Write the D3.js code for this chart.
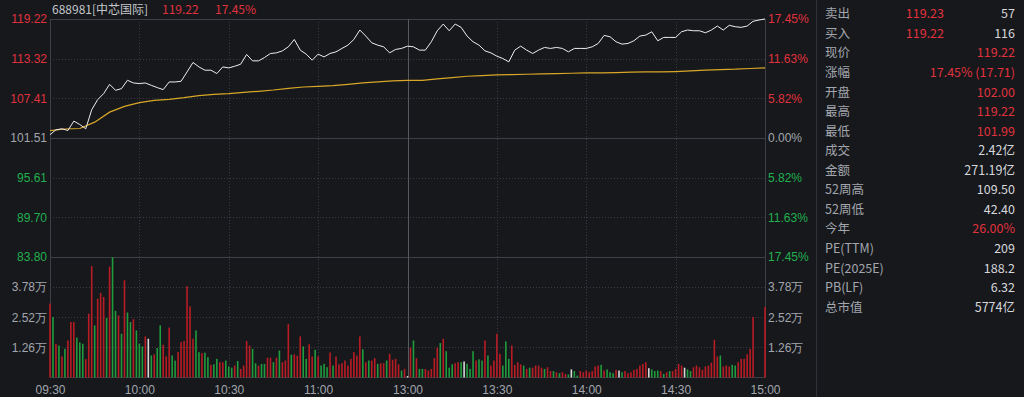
<!DOCTYPE html>
<html>
<head>
<meta charset="utf-8">
<script src="https://cdn.jsdelivr.net/npm/d3@7"></script>
<style>
html, body { margin: 0; padding: 0; background: #16181c; }
svg { display: block; font-family: "Noto Sans CJK SC", "Noto Sans", sans-serif; }
</style>
</head>
<body>
<svg id="chart" width="1024" height="397"></svg>
<script>
// price every 2 minutes, 09:30 .. 15:00 (121 points)
var prices = [
  102.00, 102.73, 102.88, 102.63, 104.02, 103.52, 102.88, 105.72, 107.22, 108.11,
  109.50, 108.61, 108.86, 110.10, 109.70, 109.61, 109.70, 109.35, 109.01, 108.71,
  109.85, 109.85, 109.95, 111.34, 112.75, 112.09, 111.60, 111.60, 111.10, 112.09,
  111.94, 112.19, 112.49, 113.94, 112.99, 112.99, 113.49, 114.09, 114.18, 114.48,
  115.08, 116.18, 114.59, 113.99, 113.09, 113.99, 113.58, 114.09, 114.33, 114.84,
  115.33, 116.18, 117.58, 116.68, 115.68, 115.33, 115.08, 114.18, 114.69, 114.84,
  115.18, 115.08, 114.59, 114.59, 115.83, 117.47, 118.47, 117.47, 118.47, 117.98,
  116.68, 115.83, 115.33, 114.48, 114.18, 113.69, 113.34, 112.84, 114.59, 115.18,
  114.59, 114.09, 114.59, 114.99, 114.84, 114.99, 114.84, 114.33, 114.84, 114.84,
  114.84, 115.08, 115.58, 116.78, 116.57, 115.83, 115.48, 115.58, 115.98, 116.68,
  116.83, 117.32, 115.98, 116.48, 116.48, 116.48, 117.32, 117.58, 117.47, 117.47,
  117.17, 117.58, 118.17, 117.58, 118.28, 118.07, 117.98, 118.17, 118.88, 119.07,
  119.22
];
// average price every 5 minutes (49 points)
var avgPrices = [
  102.60, 102.85, 102.92, 103.87, 105.36, 106.21, 106.77, 107.11, 107.26, 107.51,
  107.81, 108.01, 108.11, 108.31, 108.46, 108.65, 108.90, 109.10, 109.20, 109.31,
  109.50, 109.70, 109.85, 110.00, 110.10, 110.10, 110.30, 110.50, 110.70, 110.80,
  110.89, 110.95, 111.00, 111.04, 111.10, 111.15, 111.19, 111.19, 111.25, 111.30,
  111.34, 111.34, 111.40, 111.49, 111.60, 111.70, 111.75, 111.85, 111.94
];
// minute volume (万), morning 09:30..11:30 (121) and afternoon 13:01..15:00 (120)
var volumeAM = [
  3.09, 2.53, 1.41, 1.34, 0.88, 1.20, 1.55, 2.32, 2.32, 1.67,
  1.47, 1.41, 0.77, 2.67, 4.66, 2.18, 3.30, 3.54, 3.37, 2.49,
  4.63, 5.03, 2.79, 2.60, 1.83, 4.07, 2.72, 2.32, 2.44, 1.97,
  1.41, 1.30, 1.72, 1.62, 0.92, 0.97, 1.23, 2.18, 1.37, 0.88,
  2.09, 0.92, 0.71, 1.06, 1.48, 1.53, 3.82, 2.98, 1.62, 1.97,
  1.06, 1.02, 1.04, 0.85, 0.53, 0.55, 0.78, 0.64, 0.64, 0.71,
  0.46, 0.41, 0.50, 0.69, 0.36, 0.50, 1.53, 1.34, 1.20, 0.60,
  0.50, 0.57, 0.57, 0.83, 0.83, 0.64, 0.83, 1.13,
  0.64, 0.71, 2.23, 0.95, 0.97, 0.91, 1.72, 1.30, 0.78, 1.39,
  0.88, 1.16, 0.88, 0.50, 0.57, 0.43, 1.05, 0.50, 0.88, 0.55,
  0.60, 0.71, 0.50, 0.78, 1.06, 0.92, 1.72, 1.18, 0.64, 0.71,
  0.71, 0.81, 0.57, 0.60, 0.60, 0.71, 0.99, 0.74, 0.78, 0.55,
  0.29, 0.36, 0.06
];
var volumePM = [
  1.25, 1.55, 0.81, 0.36, 0.36, 0.36, 0.29, 0.36, 0.81, 1.25,
  1.44, 1.62, 1.10, 0.41, 0.55, 0.60, 0.64, 0.64, 0.67, 0.57,
  0.36, 1.10, 0.71, 0.76, 0.71, 1.55, 0.92, 0.50, 0.71, 1.83,
  0.99, 0.50, 1.51, 0.78, 1.34, 0.53, 0.64, 0.55, 0.50, 0.36,
  0.41, 0.41, 0.50, 0.50, 0.41, 0.36, 0.43,
  0.27, 0.27, 0.22, 0.18, 0.22, 0.15, 0.13, 0.34, 0.27, 0.08,
  0.27, 0.22, 0.29, 0.22, 0.27, 0.46, 0.50, 0.53, 0.29, 0.34,
  0.22, 0.18, 0.32, 0.29, 0.22, 0.27, 0.18, 0.22, 0.32, 0.36,
  0.50, 0.57, 0.64, 0.39, 0.34, 0.27, 0.29, 0.27, 0.15, 0.22,
  0.27, 0.27, 0.36, 0.57, 0.50, 0.41, 0.34, 0.27, 0.43, 0.50,
  0.43, 0.32, 0.46, 0.50, 0.62, 1.58, 0.88, 0.92, 0.46, 0.50,
  0.46, 0.53, 0.50, 0.64, 0.78, 0.78, 0.97, 1.20, 2.53,
  0, 0, 0, 2.95
];
// bar colour: r = up, g = down, w = flat
var dirAM = "rgrgrgrrrgggrrrgrrrgrggrgrggrgggrwgrggrrrggrrrrrrggrggrggrrgggrgrrrrggrggrrgrg" +
            "rrrgrrrggrrgrgggrgrrrrrrrrrgrgrrgrrgrrrrgrw";
var dirPM = "rgrggrrrrrgrgggrrgwgggrggrgrrrrgggrrrrgrgrrrrgr" +
            "rgrgrrgwggrrrrrrrgrgggrwgrrrrrrrrwgggrgrgrrrrwggrrrrrrrrrgrrrggrrrrrr" + "rrrr";

var preClose = 101.51;
var priceTicks = [119.22, 113.32, 107.41, 101.51, 95.61, 89.70, 83.80];
var pctTicks = ["17.45%", "11.63%", "5.82%", "0.00%", "5.82%", "11.63%", "17.45%"];
var volTicks = [3.78, 2.52, 1.26];
var timeTicks = [0, 30, 60, 90, 120, 150, 180, 210, 240];
var timeLabels = ["09:30", "10:00", "10:30", "11:00", "13:00", "13:30", "14:00", "14:30", "15:00"];

var panelLabels = ["卖出", "买入", "现价", "涨幅", "开盘", "最高", "最低", "成交", "金额",
                   "52周高", "52周低", "今年", "PE(TTM)", "PE(2025E)", "PB(LF)", "总市值"];
var panelMid = ["119.23", "119.22", "", "", "", "", "", "", "", "", "", "", "", "", "", ""];
var panelValues = ["57", "116", "119.22", "17.45% (17.71)", "102.00", "119.22", "101.99", "2.42亿",
                   "271.19亿", "109.50", "42.40", "26.00%", "209", "188.2", "6.32", "5774亿"];
var panelRed = [0, 0, 1, 1, 1, 1, 1, 0, 0, 0, 0, 1, 0, 0, 0, 0];

var RED = "#e0323c", GREEN = "#22b04e", GRAY = "#a3a6ad", GRID = "#383b42";

var svg = d3.select("#chart");
var x = d3.scaleLinear().domain([0, 240]).range([50, 765]);
var y = d3.scaleLinear().domain([83.80, 119.22]).range([257, 19]);
var yv = d3.scaleLinear().domain([0, 5.04]).range([377.5, 257]);

function tickColor(v) {
    if (Math.abs(v - preClose) < 0.001) return GRAY;
    return v > preClose ? RED : GREEN;
}

// grid
var grid = svg.append("g");
priceTicks.forEach(function (v, i) {
    var solid = (i === 0 || i === 3 || i === 6);
    grid.append("line")
        .attr("x1", 50).attr("x2", 765)
        .attr("y1", Math.round(y(v)) + 0.5).attr("y2", Math.round(y(v)) + 0.5)
        .attr("stroke", solid ? "#3c3f46" : GRID)
        .attr("stroke-dasharray", solid ? null : "1,2");
});
volTicks.forEach(function (v) {
    grid.append("line")
        .attr("x1", 50).attr("x2", 765)
        .attr("y1", Math.round(yv(v)) + 0.5).attr("y2", Math.round(yv(v)) + 0.5)
        .attr("stroke", GRID).attr("stroke-dasharray", "1,2");
});
grid.append("line").attr("x1", 50).attr("x2", 765)
    .attr("y1", 377.5).attr("y2", 377.5).attr("stroke", "#3c3f46");
timeTicks.forEach(function (t, i) {
    var solid = (i === 0 || i === 4 || i === 8);
    grid.append("line")
        .attr("x1", Math.round(x(t)) + 0.5).attr("x2", Math.round(x(t)) + 0.5)
        .attr("y1", 19).attr("y2", 377.5)
        .attr("stroke", i === 4 ? "#55585f" : (solid ? "#3c3f46" : GRID))
        .attr("stroke-dasharray", solid ? null : "1,2");
});
// right panel separator
svg.append("line").attr("x1", 816.5).attr("x2", 816.5).attr("y1", 0).attr("y2", 397)
    .attr("stroke", "#2f3238");

// volume bars
var volumes = volumeAM.concat(volumePM);
var dirs = (dirAM + dirPM).split("");
var barColor = { r: "#b81c24", g: "#1f9c3c", w: "#d8d8d8" };
svg.append("g").selectAll("rect")
    .data(volumes)
    .enter()
    .append("rect")
    .attr("x", function (d, i) { return x(i) - 0.8; })
    .attr("width", 1.6)
    .attr("y", function (d) { return yv(d); })
    .attr("height", function (d) { return yv(0) - yv(d); })
    .attr("fill", function (d, i) { return barColor[dirs[i]]; });

// average line
var avgLine = d3.line()
    .x(function (d, i) { return x(i * 5); })
    .y(function (d) { return y(d); });
svg.append("path").datum(avgPrices)
    .attr("d", avgLine)
    .attr("fill", "none").attr("stroke", "#d9a628").attr("stroke-width", 1.2);

// price line
var priceLine = d3.line()
    .x(function (d, i) { return x(i * 2); })
    .y(function (d) { return y(d); });
svg.append("path").datum(prices)
    .attr("d", priceLine)
    .attr("fill", "none").attr("stroke", "#eeeeee").attr("stroke-width", 1);

// axes
function styleAxis(g, size) {
    g.select(".domain").remove();
    g.selectAll("text").attr("font-size", size);
}
var leftAxis = svg.append("g").attr("transform", "translate(47,0)")
    .call(d3.axisLeft(y).tickValues(priceTicks).tickSize(0).tickPadding(0)
        .tickFormat(d3.format(".2f")));
styleAxis(leftAxis, 12);
leftAxis.selectAll("text").attr("fill", function (d) { return tickColor(d); });

var rightAxis = svg.append("g").attr("transform", "translate(768,0)")
    .call(d3.axisRight(y).tickValues(priceTicks).tickSize(0).tickPadding(0)
        .tickFormat(function (d, i) { return pctTicks[i]; }));
styleAxis(rightAxis, 12);
rightAxis.selectAll("text").attr("fill", function (d) { return tickColor(d); });

var volLeft = svg.append("g").attr("transform", "translate(47,0)")
    .call(d3.axisLeft(yv).tickValues(volTicks).tickSize(0).tickPadding(0)
        .tickFormat(function (d) { return d.toFixed(2) + "万"; }));
styleAxis(volLeft, 12);
volLeft.selectAll("text").attr("fill", GRAY);

var volRight = svg.append("g").attr("transform", "translate(768,0)")
    .call(d3.axisRight(yv).tickValues(volTicks).tickSize(0).tickPadding(0)
        .tickFormat(function (d) { return d.toFixed(2) + "万"; }));
styleAxis(volRight, 12);
volRight.selectAll("text").attr("fill", GRAY);

var timeAxis = svg.append("g").attr("transform", "translate(0,377)")
    .call(d3.axisBottom(x).tickValues(timeTicks).tickSize(0).tickPadding(8)
        .tickFormat(function (d, i) { return timeLabels[i]; }));
styleAxis(timeAxis, 12);
timeAxis.selectAll("text").attr("fill", GRAY);

// header
var header = svg.append("text").attr("x", 52).attr("y", 14).attr("font-size", 12);
header.append("tspan").attr("fill", "#c4c6ca").text("688981[中芯国际]");
header.append("tspan").attr("x", 162).attr("fill", RED).text("119.22");
header.append("tspan").attr("x", 215).attr("fill", RED).text("17.45%");

// right info panel
var rowY = d3.scaleLinear().domain([0, panelLabels.length - 1]).range([14, 307.3]);
var panel = svg.append("g").attr("font-size", 12.5);
panel.selectAll("text.lbl").data(panelLabels).enter().append("text")
    .attr("class", "lbl").attr("x", 825)
    .attr("y", function (d, i) { return rowY(i); }).attr("dy", "0.35em")
    .attr("fill", GRAY).text(function (d) { return d; });
panel.selectAll("text.mid").data(panelMid).enter().append("text")
    .attr("class", "mid").attr("x", 944).attr("text-anchor", "end")
    .attr("y", function (d, i) { return rowY(i); }).attr("dy", "0.35em")
    .attr("fill", RED).text(function (d) { return d; });
panel.selectAll("text.val").data(panelValues).enter().append("text")
    .attr("class", "val").attr("x", 1015).attr("text-anchor", "end")
    .attr("y", function (d, i) { return rowY(i); }).attr("dy", "0.35em")
    .attr("fill", function (d, i) { return panelRed[i] ? RED : "#d6d7da"; })
    .text(function (d) { return d; });
</script>
</body>
</html>
